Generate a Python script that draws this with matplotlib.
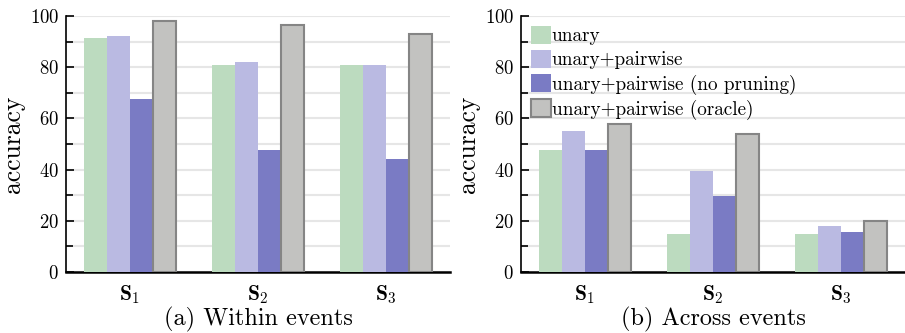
import numpy as np
import matplotlib
matplotlib.use("Agg")
from matplotlib import pyplot as plt
from matplotlib.ticker import MultipleLocator

plt.rcParams['font.family'] = 'serif'
plt.rcParams['font.serif'] = ['cmr10']
plt.rcParams['mathtext.fontset'] = 'cm'
plt.rcParams['axes.unicode_minus'] = False
plt.rcParams['axes.formatter.use_mathtext'] = True

categories = [r'$\mathbf{S}_\mathbf{1}$', r'$\mathbf{S}_\mathbf{2}$', r'$\mathbf{S}_\mathbf{3}$']
series = ['unary', 'unary+pairwise', 'unary+pairwise (no pruning)', 'unary+pairwise (oracle)']

within = [
    [91.5, 81, 81],    # unary
    [92, 82, 81],      # unary+pairwise
    [67.5, 47.5, 44],  # no pruning
    [98, 96.5, 93],    # oracle
]
across = [
    [47.5, 15, 15],
    [55, 39.5, 18],
    [47.5, 29.5, 15.5],
    [58, 54, 20],
]
captions = ['(a) Within events', '(b) Across events']

colors = ['#bcdbbf', '#babae2', '#7a7bc4', '#c2c2c0']
edges = ['none', 'none', 'none', '#858585']
bar_w = 0.18

fig = plt.figure(figsize=(9.05, 3.33), dpi=100)
ax_l = fig.add_axes([66 / 905, 1 - 272 / 333, 384 / 905, 256 / 333])
ax_r = fig.add_axes([521 / 905, 1 - 272 / 333, 384 / 905, 256 / 333])

x = np.arange(len(categories))
for ax, data, cap in [(ax_l, within, captions[0]), (ax_r, across, captions[1])]:
    for i, vals in enumerate(data):
        lw = 1.5 if edges[i] != 'none' else 0
        ax.bar(x + (i - 1.5) * bar_w, vals, bar_w, color=colors[i],
               edgecolor=edges[i], linewidth=lw, label=series[i], zorder=3)
    ax.set_xlim(-0.5, 2.5)
    ax.set_ylim(0, 100)
    ax.yaxis.set_major_locator(MultipleLocator(20))
    ax.yaxis.set_minor_locator(MultipleLocator(10))
    ax.grid(axis='y', which='both', color='#e6e6e6', linewidth=1.5, zorder=0)
    ax.set_axisbelow(True)
    ax.set_xticks(x)
    ax.set_xticklabels(categories, fontsize=15.5)
    ax.tick_params(axis='x', length=0, pad=8)
    ax.tick_params(axis='y', which='major', direction='in', length=6, width=1.2,
                   labelsize=13.5, pad=5)
    ax.tick_params(axis='y', which='minor', direction='in', length=5, width=1.2)
    for s in ['top', 'right']:
        ax.spines[s].set_visible(False)
    ax.spines['left'].set_linewidth(1.2)
    ax.spines['bottom'].set_linewidth(1.8)
    ax.set_ylabel('accuracy', fontsize=18.5)
    ax.yaxis.set_label_coords(-0.108, 0.5)
    ax.text(0.5, -0.135, cap, transform=ax.transAxes, ha='center', va='top', fontsize=17.5)

ax_r.legend(loc='upper left', bbox_to_anchor=(0.0, 1.0), frameon=False, fontsize=13.8,
            handlelength=1.05, handleheight=1.1, handletextpad=0.05, labelspacing=0.23,
            borderaxespad=0.2, borderpad=0.3)

fig.savefig('out.png', dpi=100)
